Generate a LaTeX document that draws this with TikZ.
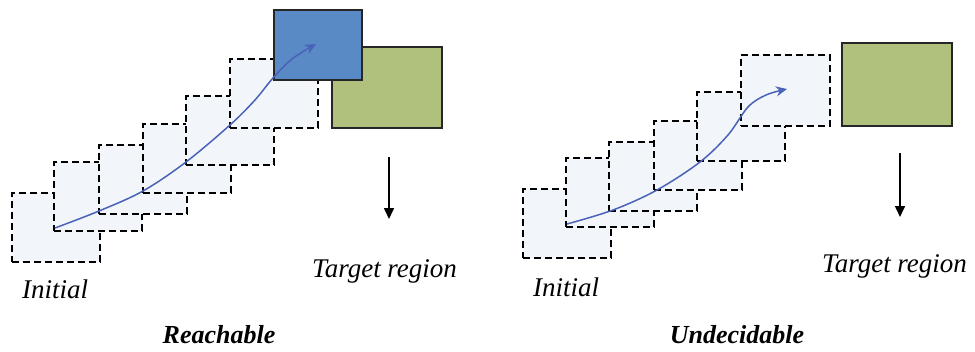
\documentclass[tikz,border=0pt]{standalone}
\usepackage{fontspec}
\setmainfont{Liberation Serif}
\usetikzlibrary{arrows.meta}
\definecolor{boxfill}{HTML}{F2F5FA}
\definecolor{reachblue}{HTML}{5A8AC6}
\definecolor{targetgreen}{HTML}{B0C17E}
\definecolor{pathblue}{HTML}{4A62B8}
\tikzset{
  regionbox/.style={draw=black, fill=boxfill, line width=2.2pt, dash pattern=on 7pt off 4pt,
    minimum width=88pt, minimum height=69pt, inner sep=0pt, outer sep=0pt, anchor=north west},
  solidbox/.style={draw=black!85, line width=1.5pt, inner sep=0pt, outer sep=0pt, anchor=north west},
  trajectory/.style={draw=pathblue, line width=1.5pt, -{Stealth[length=11pt,width=10pt]}},
  downarrow/.style={draw=black, line width=1.6pt, -{Triangle[length=11pt,width=10pt]}},
  lbl/.style={inner sep=0pt, anchor=base west, font=\fontsize{27}{30}\selectfont\itshape},
  title/.style={inner sep=0pt, anchor=base, font=\fontsize{26}{30}\selectfont\bfseries\itshape}
}
\begin{document}
\begin{tikzpicture}[x=1pt,y=-1pt]
\useasboundingbox (0,0) rectangle (975,351);
% ---- left: reachable ----
\node[regionbox] (a1) at (12,193) {};
\node[regionbox] (a2) at (54,162) {};
\node[regionbox] (a3) at (99,145) {};
\node[regionbox] (a4) at (143,124) {};
\node[regionbox] (a5) at (186,96) {};
\node[regionbox] (a6) at (230,59) {};
\node[solidbox, fill=targetgreen, minimum width=110pt, minimum height=81pt] (ag) at (332,47) {};
\node[solidbox, fill=reachblue, minimum width=88pt, minimum height=70pt] (ab) at (274,10) {};
\coordinate (astart) at (55,228);
\coordinate (aend) at (316,44);
\draw[trajectory] plot[smooth, tension=0.55] coordinates {(astart) (99,211) (143,191) (186,162) (230,125) (255,100) (273,78) (292,59) (aend)};
\coordinate (ad1) at (389,157);
\coordinate (ad2) at (389,219);
\draw[downarrow] (ad1) -- (ad2);
\node[lbl] (ainit) at (22,298) {Initial};
\node[lbl] (atarget) at (312,277) {Target region};
\node[title] (areach) at (219,343) {Reachable};
% ---- right: undecidable ----
\node[regionbox] (b1) at (523,189) {};
\node[regionbox] (b2) at (566,158) {};
\node[regionbox] (b3) at (609,142) {};
\node[regionbox] (b4) at (654,121) {};
\node[regionbox] (b5) at (697,92) {};
\node[regionbox, minimum width=89pt, minimum height=71pt] (b6) at (741,55) {};
\node[solidbox, fill=targetgreen, minimum width=110pt, minimum height=83pt] (bg) at (842,43) {};
\coordinate (bstart) at (567,224);
\coordinate (bend) at (787,89);
\draw[trajectory] plot[smooth, tension=0.55] coordinates {(bstart) (613,210) (657,190) (700,162) (728,135) (748,107) (766,95) (bend)};
\coordinate (bd1) at (900,153);
\coordinate (bd2) at (900,217);
\draw[downarrow] (bd1) -- (bd2);
\node[lbl] (binit) at (533,296) {Initial};
\node[lbl] (btarget) at (822,272) {Target region};
\node[title] (bundec) at (737,343) {Undecidable};
\end{tikzpicture}
\end{document}
